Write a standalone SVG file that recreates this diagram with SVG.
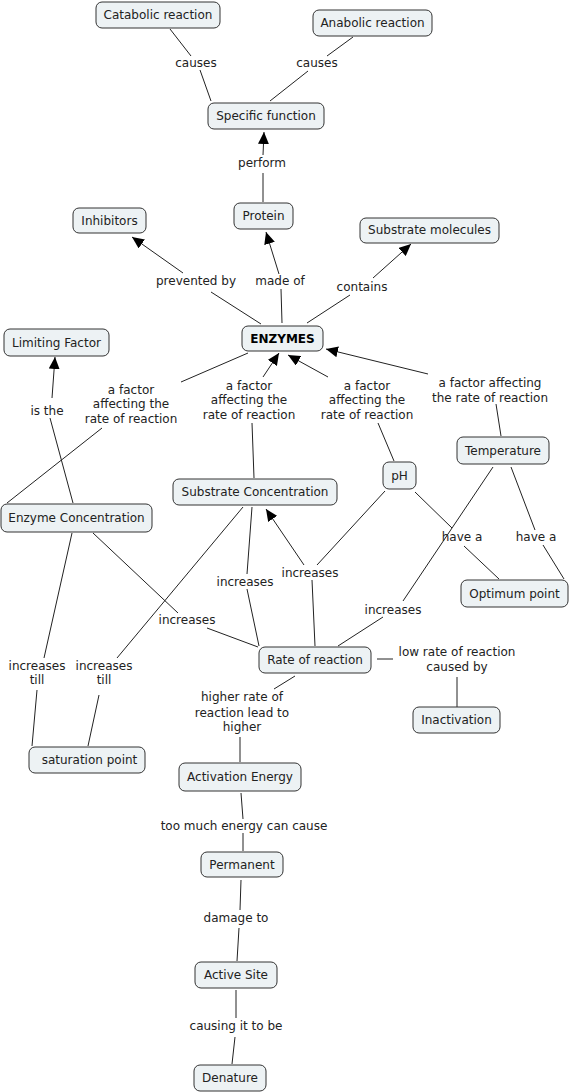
<svg xmlns="http://www.w3.org/2000/svg" width="571" height="1092" viewBox="0 0 571 1092">
<style>
.n rect{fill:#edf2f4;stroke:#333;stroke-width:1;}
text{font-family:"DejaVu Sans",Verdana,sans-serif;font-size:12px;fill:#222;text-anchor:middle;}
.b{font-weight:bold;fill:#000;}
.c line{stroke:#222;stroke-width:1;}
.a{marker-end:url(#ah);}
</style>
<defs>
<marker id="ah" viewBox="0 0 12 11" refX="12" refY="5.5" markerWidth="12" markerHeight="11" markerUnits="userSpaceOnUse" orient="auto">
<path d="M0,0 L12,5.5 L0,11 z" fill="#000"/>
</marker>
</defs>
<rect width="571" height="1092" fill="#fff"/>
<g class="c" id="connectors">
<line x1="170" y1="29" x2="191" y2="56"/>
<line x1="200" y1="70" x2="211" y2="101"/>
<line x1="353" y1="37" x2="327" y2="56"/>
<line x1="308" y1="71" x2="270" y2="101"/>
<line x1="263" y1="202" x2="263" y2="173"/>
<line class="a" x1="263" y1="155" x2="264" y2="132"/>
<line x1="261" y1="324" x2="211" y2="292"/>
<line class="a" x1="183" y1="273" x2="132" y2="237"/>
<line x1="282" y1="323" x2="281" y2="289"/>
<line class="a" x1="279" y1="274" x2="266" y2="232"/>
<line x1="307" y1="323" x2="350" y2="295"/>
<line class="a" x1="373" y1="278" x2="411" y2="244"/>
<line x1="7" y1="503" x2="102" y2="428"/>
<line x1="181" y1="382" x2="248" y2="353"/>
<line x1="254" y1="478" x2="252" y2="423"/>
<line class="a" x1="263" y1="377" x2="279" y2="353"/>
<line x1="394" y1="461" x2="378" y2="423"/>
<line class="a" x1="328" y1="377" x2="288" y2="355"/>
<line x1="501" y1="436" x2="496" y2="404"/>
<line class="a" x1="428" y1="374" x2="326" y2="349"/>
<line x1="73" y1="503" x2="50" y2="418"/>
<line class="a" x1="52" y1="398" x2="55" y2="357"/>
<line x1="415" y1="492" x2="452" y2="528"/>
<line x1="464" y1="546" x2="499" y2="579"/>
<line x1="511" y1="467" x2="535" y2="530"/>
<line x1="543" y1="545" x2="564" y2="579"/>
<line x1="493" y1="467" x2="403" y2="601"/>
<line x1="383" y1="617" x2="338" y2="646"/>
<line x1="252" y1="507" x2="247" y2="574"/>
<line x1="247" y1="589" x2="259" y2="646"/>
<line x1="315" y1="646" x2="312" y2="580"/>
<line class="a" x1="304" y1="565" x2="266" y2="509"/>
<line x1="317" y1="565" x2="385" y2="491"/>
<line x1="93" y1="533" x2="178" y2="613"/>
<line x1="207" y1="628" x2="258" y2="647"/>
<line x1="243" y1="507" x2="117" y2="658"/>
<line x1="99" y1="695" x2="88" y2="746"/>
<line x1="72" y1="533" x2="44" y2="658"/>
<line x1="37" y1="690" x2="32" y2="746"/>
<line x1="377" y1="659" x2="393" y2="659"/>
<line x1="457" y1="677" x2="457" y2="707"/>
<line x1="295" y1="676" x2="274" y2="689"/>
<line x1="240" y1="737" x2="240" y2="762"/>
<line x1="241" y1="793" x2="243" y2="819"/>
<line x1="243" y1="833" x2="243" y2="851"/>
<line x1="241" y1="880" x2="240" y2="910"/>
<line x1="239" y1="928" x2="237" y2="961"/>
<line x1="236" y1="990" x2="236" y2="1018"/>
<line x1="235" y1="1037" x2="232" y2="1064"/>
</g>
<g id="link-labels">
<text x="196" y="67">causes</text>
<text x="317" y="67">causes</text>
<text x="262" y="167">perform</text>
<text x="196" y="285">prevented by</text>
<text x="280" y="285">made of</text>
<text x="362" y="291">contains</text>
<text x="131" y="394">a factor</text>
<text x="131" y="408">affecting the</text>
<text x="131" y="423">rate of reaction</text>
<text x="249" y="390">a factor</text>
<text x="249" y="404">affecting the</text>
<text x="249" y="419">rate of reaction</text>
<text x="367" y="390">a factor</text>
<text x="367" y="404">affecting the</text>
<text x="367" y="419">rate of reaction</text>
<text x="490" y="387">a factor affecting</text>
<text x="490" y="402">the rate of reaction</text>
<text x="47" y="415">is the</text>
<text x="462" y="541">have a</text>
<text x="536" y="541">have a</text>
<text x="393" y="614">increases</text>
<text x="245" y="586">increases</text>
<text x="310" y="577">increases</text>
<text x="187" y="624">increases</text>
<text x="104" y="670">increases</text>
<text x="104" y="684">till</text>
<text x="37" y="670">increases</text>
<text x="37" y="684">till</text>
<text x="457" y="656">low rate of reaction</text>
<text x="457" y="671">caused by</text>
<text x="242" y="701">higher rate of</text>
<text x="242" y="717">reaction lead to</text>
<text x="242" y="731">higher</text>
<text x="244" y="830">too much energy can cause</text>
<text x="236" y="922">damage to</text>
<text x="236" y="1030">causing it to be</text>
</g>
<g class="n" id="catabolic"><rect x="96" y="2" width="124" height="26" rx="6"/><text x="158" y="19">Catabolic reaction</text></g>
<g class="n" id="anabolic"><rect x="313" y="10" width="119" height="26" rx="6"/><text x="372.5" y="27">Anabolic reaction</text></g>
<g class="n" id="specific"><rect x="208" y="103" width="116" height="26" rx="6"/><text x="266" y="120">Specific function</text></g>
<g class="n" id="protein"><rect x="234" y="203" width="59" height="26" rx="6"/><text x="263.5" y="220">Protein</text></g>
<g class="n" id="inhibitors"><rect x="73" y="208" width="73" height="25" rx="6"/><text x="109.5" y="225">Inhibitors</text></g>
<g class="n" id="substrate-molecules"><rect x="360" y="218" width="139" height="25" rx="6"/><text x="429.5" y="234">Substrate molecules</text></g>
<g class="n" id="enzymes"><rect x="242" y="326" width="81" height="25" rx="6"/><text class="b" x="282.5" y="343">ENZYMES</text></g>
<g class="n" id="limiting"><rect x="4" y="329" width="105" height="27" rx="6"/><text x="56.5" y="347">Limiting Factor</text></g>
<g class="n" id="temperature"><rect x="457" y="437" width="92" height="27" rx="6"/><text x="503" y="455">Temperature</text></g>
<g class="n" id="ph"><rect x="383" y="462" width="33" height="27" rx="6"/><text x="399.5" y="480">pH</text></g>
<g class="n" id="substrate-conc"><rect x="173" y="479" width="164" height="26" rx="6"/><text x="255" y="496">Substrate Concentration</text></g>
<g class="n" id="enzyme-conc"><rect x="1" y="504" width="151" height="28" rx="6"/><text x="76.5" y="522">Enzyme Concentration</text></g>
<g class="n" id="optimum"><rect x="461" y="580" width="107" height="27" rx="6"/><text x="514.5" y="598">Optimum point</text></g>
<g class="n" id="rate"><rect x="259" y="647" width="112" height="26" rx="6"/><text x="315" y="664">Rate of reaction</text></g>
<g class="n" id="inactivation"><rect x="413" y="707" width="87" height="26" rx="6"/><text x="456.5" y="724">Inactivation</text></g>
<g class="n" id="saturation"><rect x="29" y="747" width="116" height="26" rx="6"/><text x="89.5" y="764">saturation point</text></g>
<g class="n" id="activation"><rect x="179" y="763" width="122" height="28" rx="6"/><text x="240" y="781">Activation Energy</text></g>
<g class="n" id="permanent"><rect x="201" y="852" width="82" height="25" rx="6"/><text x="242" y="869">Permanent</text></g>
<g class="n" id="active-site"><rect x="195" y="962" width="82" height="26" rx="6"/><text x="236" y="979">Active Site</text></g>
<g class="n" id="denature"><rect x="194" y="1065" width="72" height="26" rx="6"/><text x="230" y="1082">Denature</text></g>
</svg>
